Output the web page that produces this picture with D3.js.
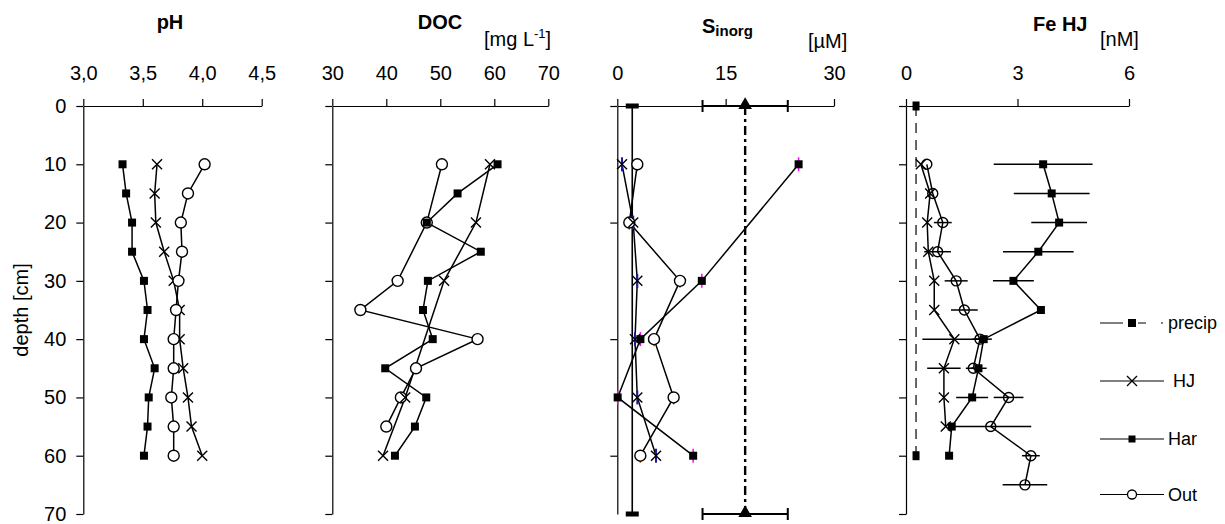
<!DOCTYPE html>
<html>
<head>
<meta charset="utf-8">
<script src="https://cdn.jsdelivr.net/npm/d3@7"></script>
<style>
  body { margin: 0; background: #fff; }
  svg { font-family: "Liberation Sans", Arial, sans-serif; }
</style>
</head>
<body>
<div id="chart"></div>
<script>
// depths (cm)
const depth5 = [10, 15, 20, 25, 30, 35, 40, 45, 50, 55, 60];
const depth10 = [10, 20, 30, 40, 50, 60];
const depthTicks = [0, 10, 20, 30, 40, 50, 60, 70];

// pH
const phTicks = [3.0, 3.5, 4.0, 4.5];
const phHar = [3.33, 3.36, 3.41, 3.41, 3.51, 3.54, 3.51, 3.60, 3.55, 3.54, 3.51];
const phHJ = [3.62, 3.60, 3.61, 3.68, 3.76, 3.81, 3.81, 3.84, 3.88, 3.91, 4.00];
const phOut = [4.02, 3.88, 3.82, 3.83, 3.80, 3.78, 3.76, 3.76, 3.74, 3.76, 3.76];

// DOC [mg/L]
const docTicks = [30, 40, 50, 60, 70];
const docHar = [60.6, 53.2, 47.5, 57.5, 47.7, 46.8, 48.6, 39.8, 47.4, 45.3, 41.6];
const docHJDepth = [10, 20, 30, 50, 60];
const docHJ = [59.2, 56.6, 50.7, 43.5, 39.4];
const docOutDepth = [10, 20, 30, 35, 40, 45, 50, 55];
const docOut = [50.3, 47.5, 42.1, 35.2, 56.9, 45.5, 42.7, 40.0];

// S inorg [uM]
const sTicks = [0, 15, 30];
const sDepthTicks = [0, 20, 40, 60];
const sHarDepth = [10, 30, 40, 50, 60];
const sHar = [25.1, 11.7, 3.2, 0.05, 10.5];
const sHJ = [0.65, 2.2, 2.77, 2.45, 2.77, 5.36];
const sOut = [2.77, 1.66, 8.68, 5.08, 7.8, 3.19];
const sPrecipDepth = [0, 70];
const sPrecip = [2.07, 2.07];
const sPrecip2 = [17.7, 17.7];
const sPrecip2Err = [5.9, 5.9];

// Fe HJ [nM]
const feTicks = [0, 3, 6];
const feHar = [3.69, 3.92, 4.12, 3.56, 2.89, 3.63, 2.09, 1.95, 1.78, 1.23, 1.16];
const feHarErr = [1.33, 1.02, 0.75, 0.95, 0.55, 0, 0.22, 0.22, 0.43, 0, 0.08];
const feHJDepth = [10, 15, 20, 25, 30, 35, 40, 45, 50, 55];
const feHJ = [0.40, 0.65, 0.57, 0.60, 0.76, 0.76, 1.30, 1.02, 1.02, 1.07];
const feHJErr = [0, 0, 0, 0, 0, 0, 0.86, 0.45, 0, 0];
const feOutDepth = [10, 15, 20, 25, 30, 35, 40, 45, 50, 55, 60, 65];
const feOut = [0.56, 0.72, 0.99, 0.85, 1.35, 1.57, 1.99, 1.81, 2.76, 2.28, 3.36, 3.20];
const feOutErr = [0, 0, 0.24, 0.36, 0.31, 0.36, 0.2, 0.2, 0.4, 1.09, 0.24, 0.6];
const fePrecipDepth = [0, 60];
const fePrecip = [0.27, 0.27];

const legendLabels = ["precip", "HJ", "Har", "Out"];

const width = 1225;
const height = 524;

const svg = d3.select("#chart").append("svg")
  .attr("width", width)
  .attr("height", height);

const y = d3.scaleLinear().domain([0, 70]).range([106, 514]);

const zip = (ds, vs, es) => ds.map((d, i) => ({ d, v: vs[i], e: es ? es[i] : 0 }));

function panel(domain, range, ticks, fmt, yTicks, showYLabels) {
  const x = d3.scaleLinear().domain(domain).range(range);
  const g = svg.append("g");

  g.append("g")
    .attr("transform", `translate(0,${y(0)})`)
    .call(d3.axisTop(x).tickValues(ticks).tickFormat(fmt).tickSize(7).tickSizeOuter(0).tickPadding(19));

  g.append("g")
    .attr("transform", `translate(${x(domain[0])},0)`)
    .call(d3.axisLeft(y).tickValues(yTicks).tickFormat(showYLabels ? d3.format("d") : "")
      .tickSize(7).tickSizeOuter(0).tickPadding(10));

  g.selectAll(".domain, .tick line").attr("stroke", "#000").attr("stroke-width", 1.2);
  g.selectAll(".tick text").attr("fill", "#000").style("font-size", "20px");
  return { x, g };
}

function line(g, x, pts, opts = {}) {
  g.append("path")
    .datum(pts)
    .attr("fill", "none")
    .attr("stroke", "#000")
    .attr("stroke-width", opts.w || 1.5)
    .attr("stroke-dasharray", opts.dash || null)
    .attr("d", d3.line().x((p) => x(p.v)).y((p) => y(p.d)));
}

function errBars(g, x, pts) {
  g.selectAll(null).data(pts.filter((p) => p.e > 0)).enter().append("line")
    .attr("x1", (p) => x(p.v - p.e))
    .attr("x2", (p) => x(p.v + p.e))
    .attr("y1", (p) => y(p.d))
    .attr("y2", (p) => y(p.d))
    .attr("stroke", "#000")
    .attr("stroke-width", 1.5);
}

function squares(g, x, pts, s = 8) {
  g.selectAll(null).data(pts).enter().append("rect")
    .attr("x", (p) => x(p.v) - s / 2)
    .attr("y", (p) => y(p.d) - s / 2)
    .attr("width", s)
    .attr("height", s)
    .attr("fill", "#000");
}

function circles(g, x, pts, r = 5.5, fill = "#fff") {
  g.selectAll(null).data(pts).enter().append("circle")
    .attr("cx", (p) => x(p.v))
    .attr("cy", (p) => y(p.d))
    .attr("r", r)
    .attr("fill", fill)
    .attr("stroke", "#000")
    .attr("stroke-width", 1.4);
}

function crosses(g, x, pts, s = 5) {
  g.selectAll(null).data(pts).enter().append("path")
    .attr("d", (p) => {
      const cx = x(p.v), cy = y(p.d);
      return `M${cx - s},${cy - s}L${cx + s},${cy + s}M${cx - s},${cy + s}L${cx + s},${cy - s}`;
    })
    .attr("stroke", "#000")
    .attr("stroke-width", 1.4)
    .attr("fill", "none");
}

// small coloured depth bars (S inorg panel)
function vTicks(g, x, pts, up, down, color, w) {
  g.selectAll(null).data(pts).enter().append("line")
    .attr("x1", (p) => x(p.v)).attr("x2", (p) => x(p.v))
    .attr("y1", (p) => y(p.d) - up).attr("y2", (p) => y(p.d) + down)
    .attr("stroke", color).attr("stroke-width", w);
}

// ---------- pH ----------
{
  const { x, g } = panel([3, 4.5], [83.3, 261.7], phTicks, (d) => d.toFixed(1).replace(".", ","), depthTicks, true);
  const har = zip(depth5, phHar), hj = zip(depth5, phHJ), out = zip(depth5, phOut);
  line(g, x, hj); line(g, x, out); line(g, x, har);
  crosses(g, x, hj); circles(g, x, out); squares(g, x, har);
}

// ---------- DOC ----------
{
  const { x, g } = panel([30, 70], [332.3, 548.3], docTicks, d3.format("d"), depthTicks, false);
  const har = zip(depth5, docHar), hj = zip(docHJDepth, docHJ), out = zip(docOutDepth, docOut);
  line(g, x, hj); line(g, x, out); line(g, x, har);
  circles(g, x, out); crosses(g, x, hj); squares(g, x, har);
}

// ---------- S inorg ----------
{
  const { x, g } = panel([0, 30], [617.3, 834], sTicks, d3.format("d"), sDepthTicks, false);
  const har = zip(sHarDepth, sHar), hj = zip(depth10, sHJ), out = zip(depth10, sOut);
  const pr = zip(sPrecipDepth, sPrecip), pr2 = zip(sPrecipDepth, sPrecip2, sPrecip2Err);

  line(g, x, pr, { w: 1.6 });
  line(g, x, pr2, { w: 2.4, dash: "9,4,3,4" });
  line(g, x, hj); line(g, x, out); line(g, x, har);

  // triangle series error bars with caps
  g.selectAll(null).data(pr2).enter().append("path")
    .attr("d", (p) => {
      const a = x(p.v - p.e), b = x(p.v + p.e), cy = y(p.d);
      return `M${a},${cy}H${b}M${a},${cy - 6}V${cy + 6}M${b},${cy - 6}V${cy + 6}`;
    })
    .attr("stroke", "#000").attr("stroke-width", 2).attr("fill", "none");

  vTicks(g, x, har, 7, 7, "#ff00ff", 1.5);
  vTicks(g, x, hj, 7, 7, "#1a1aa0", 2);
  vTicks(g, x, out, 0, 7, "#c04000", 1.5);

  circles(g, x, out); crosses(g, x, hj); squares(g, x, har);

  g.selectAll(null).data(pr).enter().append("rect")
    .attr("x", (p) => x(p.v) - 6.5).attr("y", (p) => y(p.d) - 2.5)
    .attr("width", 13).attr("height", 5).attr("fill", "#000");

  g.selectAll(null).data(pr2).enter().append("path")
    .attr("transform", (p) => `translate(${x(p.v)},${y(p.d) - 1})`)
    .attr("d", d3.symbol(d3.symbolTriangle, 80))
    .attr("fill", "#000");
}

// ---------- Fe HJ ----------
{
  const { x, g } = panel([0, 6], [906, 1129], feTicks, d3.format("d"), depthTicks, false);
  const har = zip(depth5, feHar, feHarErr), hj = zip(feHJDepth, feHJ, feHJErr), out = zip(feOutDepth, feOut, feOutErr);
  const pr = zip(fePrecipDepth, fePrecip);

  line(g, x, pr, { w: 1.2, dash: "10,7" });
  line(g, x, hj); line(g, x, out); line(g, x, har);
  errBars(g, x, hj); errBars(g, x, out); errBars(g, x, har);
  circles(g, x, out, 5, "none"); crosses(g, x, hj); squares(g, x, har);

  g.selectAll(null).data(pr).enter().append("rect")
    .attr("x", (p) => x(p.v) - 3.5).attr("y", (p) => y(p.d) - 4.5)
    .attr("width", 7).attr("height", 9).attr("fill", "#000");
}

// ---------- titles ----------
svg.append("text").attr("x", 170).attr("y", 29).attr("text-anchor", "middle")
  .style("font-size", "20px").style("font-weight", "bold").text("pH");

svg.append("text").attr("x", 440).attr("y", 29).attr("text-anchor", "middle")
  .style("font-size", "20px").style("font-weight", "bold").text("DOC");

const mg = svg.append("text").attr("x", 484).attr("y", 46).style("font-size", "20px");
mg.append("tspan").text("[mg L");
mg.append("tspan").attr("dy", -8).style("font-size", "13px").text("-1");
mg.append("tspan").attr("dy", 8).text("]");

const st = svg.append("text").attr("x", 702).attr("y", 33).style("font-weight", "bold").style("font-size", "20px");
st.append("tspan").text("S");
st.append("tspan").attr("dy", 3).style("font-size", "15px").text("inorg");

svg.append("text").attr("x", 808).attr("y", 48).style("font-size", "20px").text("[µM]");

svg.append("text").attr("x", 1033).attr("y", 31)
  .style("font-size", "20px").style("font-weight", "bold").text("Fe HJ");
svg.append("text").attr("x", 1100).attr("y", 46).style("font-size", "20px").text("[nM]");

svg.append("text")
  .attr("transform", "translate(28,310) rotate(-90)")
  .attr("text-anchor", "middle")
  .style("font-size", "20px")
  .text("depth [cm]");

// ---------- legend ----------
const legY = [323, 381, 439, 494.5];
const lg = svg.append("g");
const lx0 = 1100, lx1 = 1164, lmx = 1132;

lg.selectAll(null).data(legendLabels).enter().append("text")
  .attr("x", (d) => (d === "HJ" ? 1173 : 1168)).attr("y", (d, i) => legY[i]).attr("dy", "0.35em")
  .style("font-size", "18px").text((d) => d);

// precip: solid, square, dash, dot
lg.append("path")
  .attr("d", `M${lx0},${legY[0]}H1123M1138,${legY[0]}H1146M1161,${legY[0]}H1163`)
  .attr("stroke", "#000").attr("stroke-width", 1.2);
lg.append("rect").attr("x", lmx - 4).attr("y", legY[0] - 4).attr("width", 8).attr("height", 8);

[1, 2, 3].forEach((i) => {
  lg.append("line").attr("x1", lx0).attr("x2", lx1).attr("y1", legY[i]).attr("y2", legY[i])
    .attr("stroke", "#000").attr("stroke-width", 1.2);
});
lg.append("path")
  .attr("d", `M${lmx - 5},${legY[1] - 5}L${lmx + 5},${legY[1] + 5}M${lmx - 5},${legY[1] + 5}L${lmx + 5},${legY[1] - 5}`)
  .attr("stroke", "#000").attr("stroke-width", 1.3);
lg.append("rect").attr("x", lmx - 3.5).attr("y", legY[2] - 3.5).attr("width", 7).attr("height", 7);
lg.append("circle").attr("cx", lmx).attr("cy", legY[3]).attr("r", 4.5)
  .attr("fill", "#fff").attr("stroke", "#000").attr("stroke-width", 1.3);
</script>
</body>
</html>
